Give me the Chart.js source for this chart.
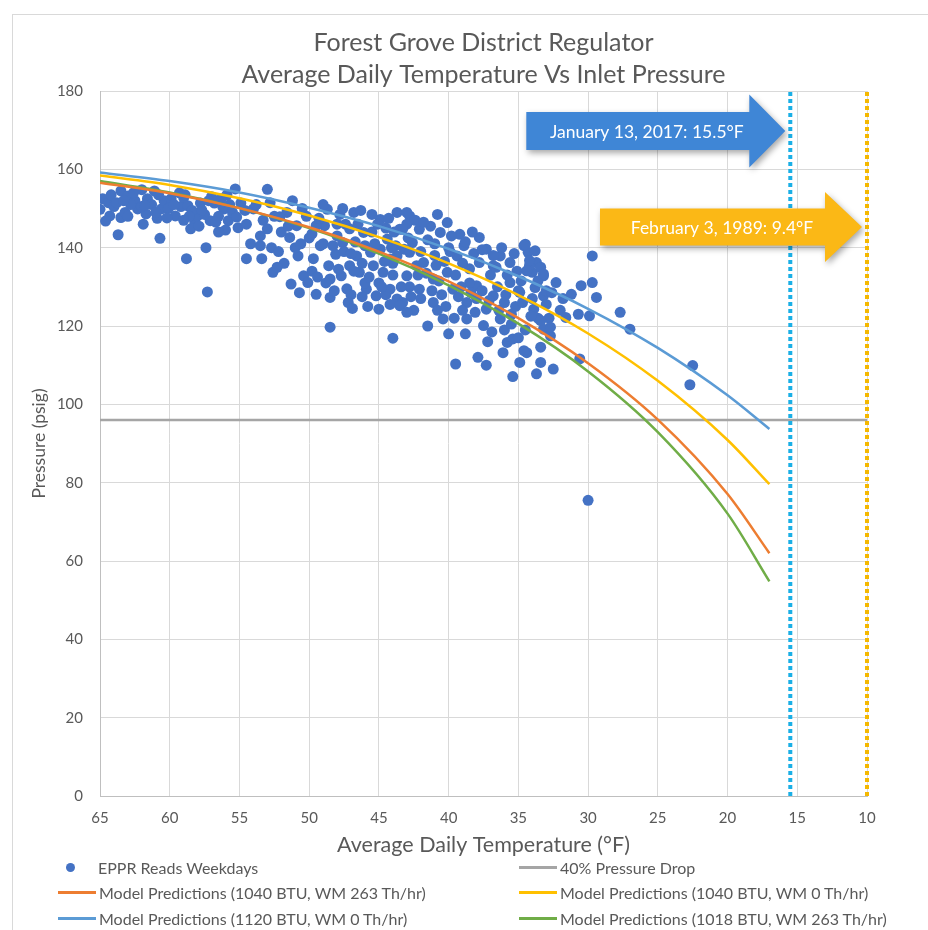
<!DOCTYPE html>
<html>
<head>
<meta charset="utf-8">
<title>Forest Grove District Regulator</title>
<script src="https://cdn.jsdelivr.net/npm/chart.js@4.4.1/dist/chart.umd.min.js"></script>
<style>
  body { margin: 0; background: #fff; }
  #wrap { position: relative; width: 928px; height: 930px; }
  #legend { position: absolute; left: 0; top: 855px; width: 928px; height: 75px;
            font-family: Lato, 'Liberation Sans', sans-serif; font-size: 16px; color: #595959; }
  .item { position: absolute; height: 24px; display: flex; align-items: center; white-space: nowrap; }
  .sw { width: 38px; height: 3px; margin-right: 3px; }
  .dot { width: 9px; height: 9px; border-radius: 50%; margin: 0 23px 0 8px; }
</style>
</head>
<body>
<div id="wrap">
  <canvas id="chart"></canvas>
  <div id="legend"></div>
</div>
<script>
// ---- data ----
const titleLines = ['Forest Grove District Regulator', 'Average Daily Temperature Vs Inlet Pressure'];

// EPPR reads (weekdays): temperature °F, pressure psig
const readTemps = [
  65.0,64.8,64.3,64.4,63.5,63.5,63.0,62.5,62.3,61.7,61.6,61.1,60.6,60.4,59.9,59.6,59.2,58.7,58.2,58.0,
  57.8,57.1,56.8,56.1,55.8,55.3,55.1,54.9,54.2,54.5,63.7,60.7,58.5,57.4,58.8,57.3,64.0,63.2,62.8,62.0,
  61.3,60.9,60.1,59.0,58.4,57.5,56.5,56.3,55.5,62.0,59.3,57.0,55.9,64.6,61.9,57.9,56.0,
  64.2,63.8,63.0,62.6,61.8,61.0,60.2,59.7,58.9,58.6,57.7,57.2,56.7,55.7,55.2,54.6,63.3,60.8,59.0,56.2,
  53.0,54.0,53.5,53.4,52.7,52.6,53.0,51.6,51.4,51.3,50.8,50.4,50.1,49.7,49.5,49.2,48.7,48.9,48.5,48.5,
  48.6,48.1,48.5,47.7,47.3,46.8,47.1,46.6,46.4,45.9,46.0,45.4,45.2,45.0,44.9,44.9,44.7,44.2,44.2,43.7,
  43.7,43.5,43.0,42.8,42.6,42.3,44.0,53.5,52.1,50.9,49.5,48.0,47.6,47.1,46.1,45.6,44.4,43.7,43.2,
  49.0,48.0,47.5,46.5,45.5,45.0,44.5,44.0,43.8,43.0,52.0,52.5,54.5,56.5,53.8,51.2,50.2,49.0,47.8,46.3,
  44.3,46.8,44.0,42.8,46.0,47.0,48.8,49.8,51.0,44.5,45.8,50.0,51.8,47.2,46.2,45.3,44.6,49.3,
  53.3,52.8,52.2,51.5,50.6,50.5,49.8,49.4,48.3,47.9,47.4,47.0,46.7,46.2,45.7,45.1,44.8,44.1,43.9,43.4,
  42.9,42.7,42.2,45.5,47.6,46.9,44.2,48.2,50.7,52.3,
  43.0,42.4,43.3,42.1,40.1,40.6,39.2,37.8,38.9,37.3,36.3,34.6,34.3,33.7,34.0,33.2,32.3,35.6,36.8,35.6,
  34.9,33.2,33.9,33.2,32.7,42.8,41.8,42.1,43.3,41.1,41.1,40.4,40.1,39.7,38.7,38.7,38.0,37.3,36.8,37.5,
  36.3,35.8,35.4,36.1,34.4,34.9,33.4,32.5,39.5,37.9,37.3,43.5,39.4,38.5,37.8,
  42.0,41.5,41.0,40.5,40.0,39.5,39.0,38.5,38.0,37.0,36.5,36.0,35.5,35.0,34.5,34.0,33.6,33.0,32.8,40.0,
  41.5,42.5,41.0,39.8,38.2,36.8,35.8,34.8,36.0,37.2,38.8,39.6,40.8,43.0,41.6,39.0,37.6,35.2,33.8,32.0,
  31.8,41.3,40.8,42.0,40.3,38.3,36.2,34.2,35.3,
  41.8,41.2,40.7,40.2,39.9,39.3,38.8,38.1,37.6,37.1,36.6,36.4,35.9,35.5,35.1,34.7,34.1,33.6,33.0,32.6,
  39.1,40.9,38.4,36.9,35.0,
  34.5,33.8,34.2,33.4,34.4,33.2,29.7,30.5,29.7,31.2,29.4,31.6,30.7,29.9,27.7,27.0,33.4,32.7,34.6,33.4,
  30.6,33.7,22.5,22.7,35.4,30.0
];
const readPressures = [
  149.8,152.5,148.1,151.5,154.5,147.7,153.2,152.0,149.9,148.6,152.5,154.5,149.9,152.0,152.5,148.1,150.5,150.7,146.4,148.1,
  151.4,146.9,151.4,149.9,146.9,155.0,145.1,151.4,141.0,137.2,143.3,142.4,144.8,140.0,137.2,128.7,150.5,149.0,151.0,150.5,
  151.0,147.5,150.0,152.8,149.5,148.5,148.0,152.5,149.0,154.8,154.0,153.0,153.5,146.8,146.0,145.5,144.5,
  153.5,151.5,148.0,154.0,150.8,149.0,147.6,151.0,153.5,148.0,149.6,152.0,146.5,151.0,147.8,149.5,152.0,153.5,147.0,150.5,
  154.9,149.9,140.5,137.2,140.0,133.7,144.8,149.0,142.6,130.7,137.9,132.8,131.1,137.2,128.1,140.5,149.8,145.6,127.3,119.7,
  135.4,138.3,132.0,132.8,129.5,149.0,144.8,137.9,133.7,129.4,140.5,135.4,127.7,124.3,147.2,139.6,133.7,137.1,129.4,149.0,
  126.9,144.7,132.8,148.1,141.3,135.4,116.9,143.0,147.9,145.6,145.6,143.0,141.3,135.4,143.9,138.8,142.2,137.9,139.6,
  141.0,146.0,139.0,146.0,144.0,131.0,145.0,133.0,140.5,146.0,144.0,148.0,146.0,144.0,151.0,152.0,148.0,151.0,148.5,149.5,
  147.5,134.0,136.0,130.0,131.0,128.0,131.0,134.0,140.0,128.0,125.0,142.5,136.0,126.0,127.5,141.0,136.5,147.5,
  147.0,151.5,139.0,145.5,141.0,150.0,143.5,132.5,140.5,134.5,146.0,138.5,141.5,136.0,132.5,146.0,130.0,140.0,144.0,130.0,
  142.5,127.5,133.0,148.5,150.0,124.5,125.5,129.0,128.5,135.0,
  149.0,147.0,144.7,144.7,146.4,143.9,143.4,142.6,140.5,139.6,137.9,140.5,138.8,136.2,133.7,132.8,131.1,136.2,135.4,131.1,
  128.6,127.7,124.3,119.2,117.5,138.8,136.2,129.4,126.0,132.0,126.0,121.8,133.7,129.4,126.0,121.8,130.3,124.3,127.7,120.1,
  121.8,115.8,116.7,113.2,113.2,110.7,110.7,109.0,110.3,112.0,110.0,125.2,137.9,134.6,136.2,
  139.0,142.0,138.0,128.0,140.0,133.0,124.0,131.0,127.0,133.0,130.0,126.0,123.0,129.0,119.0,127.0,122.0,129.0,122.0,118.0,
  120.0,124.0,141.0,143.0,138.5,138.0,133.0,131.5,119.0,116.0,118.0,122.0,124.0,123.5,133.5,136.0,129.0,125.0,129.8,124.0,
  127.0,145.5,148.5,127.0,136.5,144.0,140.0,135.5,138.5,
  146.5,129.0,131.5,125.0,139.0,127.5,141.5,123.5,139.5,126.5,135.0,124.0,128.0,120.5,134.0,126.0,122.5,131.5,125.5,128.5,
  130.0,135.5,128.5,118.5,117.0,
  140.9,139.2,136.7,135.0,134.1,133.3,137.9,130.3,131.1,128.1,127.3,122.2,123.0,122.6,123.5,119.2,121.4,119.7,113.7,114.6,
  111.6,107.8,109.9,105.0,107.1,75.5
];

// model prediction curves
const curveTemps = [65, 60, 55, 50, 45, 40, 35, 30, 25, 20, 17];
const model1040wm263 = [156.6, 153.9, 150.1, 145.2, 139.0, 131.4, 122.0, 110.5, 96.1, 77.1, 62.0];
const model1040wm0   = [158.4, 156.0, 152.6, 148.2, 142.7, 136.0, 127.9, 118.1, 106.0, 90.9, 79.6];
const model1120wm0   = [159.2, 157.0, 154.1, 150.2, 145.5, 139.7, 132.7, 124.4, 114.4, 102.3, 93.7];
const model1018wm263 = [157.0, 154.1, 150.1, 145.0, 138.5, 130.4, 120.6, 108.4, 92.9, 72.1, 54.8];

// 40% pressure drop level
const dropTemps = [65, 10];
const dropPressure = 96;

// cold events (vertical dotted markers)
const eventLabels = ['January 13, 2017: 15.5°F', 'February 3, 1989: 9.4°F'];
const eventTemps = [15.5, 10];

const seriesNames = [
  'EPPR Reads Weekdays',
  '40% Pressure Drop',
  'Model Predictions (1040 BTU, WM 263 Th/hr)',
  'Model Predictions (1040 BTU, WM 0 Th/hr)',
  'Model Predictions (1120 BTU, WM 0 Th/hr)',
  'Model Predictions (1018 BTU, WM 263 Th/hr)'
];

const FONT = "Lato, 'Liberation Sans', sans-serif";
const GREY_TEXT = '#595959';

function xy(xs, ys) {
  return xs.map((x, i) => ({ x: x, y: ys[i] }));
}

function curve(label, values, color) {
  return {
    label: label,
    data: xy(curveTemps, values),
    showLine: true,
    borderColor: color,
    backgroundColor: color,
    borderWidth: 2.5,
    pointRadius: 0,
    cubicInterpolationMode: 'monotone'
  };
}

function eventLine(t, color) {
  return {
    label: 'event',
    data: [{ x: t, y: 0 }, { x: t, y: 180 }],
    showLine: true,
    borderColor: color,
    borderWidth: 4,
    borderDash: [4, 3],
    pointRadius: 0,
    clip: 4
  };
}

// arrows with dates, drawn on top of the plot
const arrowPlugin = {
  id: 'arrows',
  afterDatasetsDraw(chart) {
    const ctx = chart.ctx;
    const x = chart.scales.x;
    const shapes = [
      { color: '#3F86D6', cy: 131, len: 259, body: 19, head: 36.5, headLen: 36 },
      { color: '#FBB816', cy: 227, len: 262, body: 18.5, head: 35, headLen: 37 }
    ];
    shapes.forEach((s, i) => {
      const tip = x.getPixelForValue(eventTemps[i]) - 5;
      const left = tip - s.len;
      const base = tip - s.headLen;
      ctx.save();
      ctx.shadowColor = 'rgba(0,0,0,0.35)';
      ctx.shadowBlur = 6;
      ctx.shadowOffsetX = 2;
      ctx.shadowOffsetY = 3;
      ctx.fillStyle = s.color;
      ctx.beginPath();
      ctx.moveTo(left, s.cy - s.body);
      ctx.lineTo(base, s.cy - s.body);
      ctx.lineTo(base, s.cy - s.head);
      ctx.lineTo(tip, s.cy);
      ctx.lineTo(base, s.cy + s.head);
      ctx.lineTo(base, s.cy + s.body);
      ctx.lineTo(left, s.cy + s.body);
      ctx.closePath();
      ctx.fill();
      ctx.restore();

      ctx.save();
      ctx.fillStyle = '#ffffff';
      ctx.font = '17.5px ' + FONT;
      ctx.textAlign = 'center';
      ctx.textBaseline = 'middle';
      ctx.fillText(eventLabels[i], (left + tip) / 2 - 9, s.cy + 1);
      ctx.restore();
    });
  }
};

// thin frame of the chart area (Excel style)
const framePlugin = {
  id: 'frame',
  beforeDraw(chart) {
    const ctx = chart.ctx;
    ctx.save();
    ctx.strokeStyle = '#d9d9d9';
    ctx.lineWidth = 1;
    ctx.strokeRect(12.5, 14.5, 1000, 1000);
    ctx.restore();
  }
};

const chart = new Chart(document.getElementById('chart'), {
  type: 'scatter',
  data: {
    datasets: [
      eventLine(eventTemps[0], '#1AAFE6'),
      eventLine(eventTemps[1], '#F5B800'),
      curve(seriesNames[2], model1040wm263, '#ED7D31'),
      curve(seriesNames[3], model1040wm0, '#FFC000'),
      curve(seriesNames[4], model1120wm0, '#5B9BD5'),
      curve(seriesNames[5], model1018wm263, '#70AD47'),
      {
        label: seriesNames[1],
        data: dropTemps.map(t => ({ x: t, y: dropPressure })),
        showLine: true,
        borderColor: '#A5A5A5',
        borderWidth: 2.5,
        pointRadius: 0
      },
      {
        label: seriesNames[0],
        data: xy(readTemps, readPressures),
        backgroundColor: '#4472C4',
        borderWidth: 0,
        pointRadius: 5.5
      }
    ]
  },
  options: {
    responsive: true,
    maintainAspectRatio: false,
    animation: false,
    layout: { padding: { left: 0, right: 61, top: 0, bottom: 70 } },
    plugins: {
      legend: { display: false },
      tooltip: { enabled: false },
      title: {
        display: true,
        fullSize: false,
        text: titleLines,
        color: GREY_TEXT,
        font: { family: FONT, size: 25, weight: 'normal', lineHeight: 1.28 },
        padding: { top: 27, bottom: 0 }
      }
    },
    scales: {
      x: {
        type: 'linear',
        min: 10,
        max: 65,
        reverse: true,
        ticks: { stepSize: 5, color: GREY_TEXT, font: { family: FONT, size: 15 }, padding: 13, maxRotation: 0 },
        grid: { color: '#d9d9d9', drawTicks: false },
        border: { color: '#bfbfbf' },
        title: {
          display: true,
          text: 'Average Daily Temperature (°F)',
          color: GREY_TEXT,
          font: { family: FONT, size: 21.5 },
          padding: { top: 0, bottom: 2 }
        },
        afterFit(s) { s.height = 64; }
      },
      y: {
        min: 0,
        max: 180,
        ticks: { stepSize: 20, color: GREY_TEXT, font: { family: FONT, size: 15 }, padding: 17 },
        grid: { color: '#d9d9d9', drawTicks: false },
        border: { color: '#bfbfbf' },
        title: {
          display: true,
          text: 'Pressure (psig)',
          color: GREY_TEXT,
          font: { family: FONT, size: 17.5 },
          padding: { top: 29, bottom: 0 }
        },
        afterFit(s) { s.width = 100; }
      }
    }
  },
  plugins: [framePlugin, arrowPlugin]
});

// legend laid out in two columns like the original
const legendEl = document.getElementById('legend');
const legendColors = ['#4472C4', '#A5A5A5', '#ED7D31', '#FFC000', '#5B9BD5', '#70AD47'];
seriesNames.forEach((name, i) => {
  const item = document.createElement('div');
  item.className = 'item';
  const col = i % 2;
  const row = Math.floor(i / 2);
  item.style.left = (col === 0 ? 58 : 519) + 'px';
  item.style.top = (row * 25.5) + 'px';
  const sw = document.createElement('span');
  sw.className = i === 0 ? 'dot' : 'sw';
  sw.style.background = legendColors[i];
  item.appendChild(sw);
  const txt = document.createElement('span');
  txt.textContent = name;
  item.appendChild(txt);
  legendEl.appendChild(item);
});
</script>
</body>
</html>
